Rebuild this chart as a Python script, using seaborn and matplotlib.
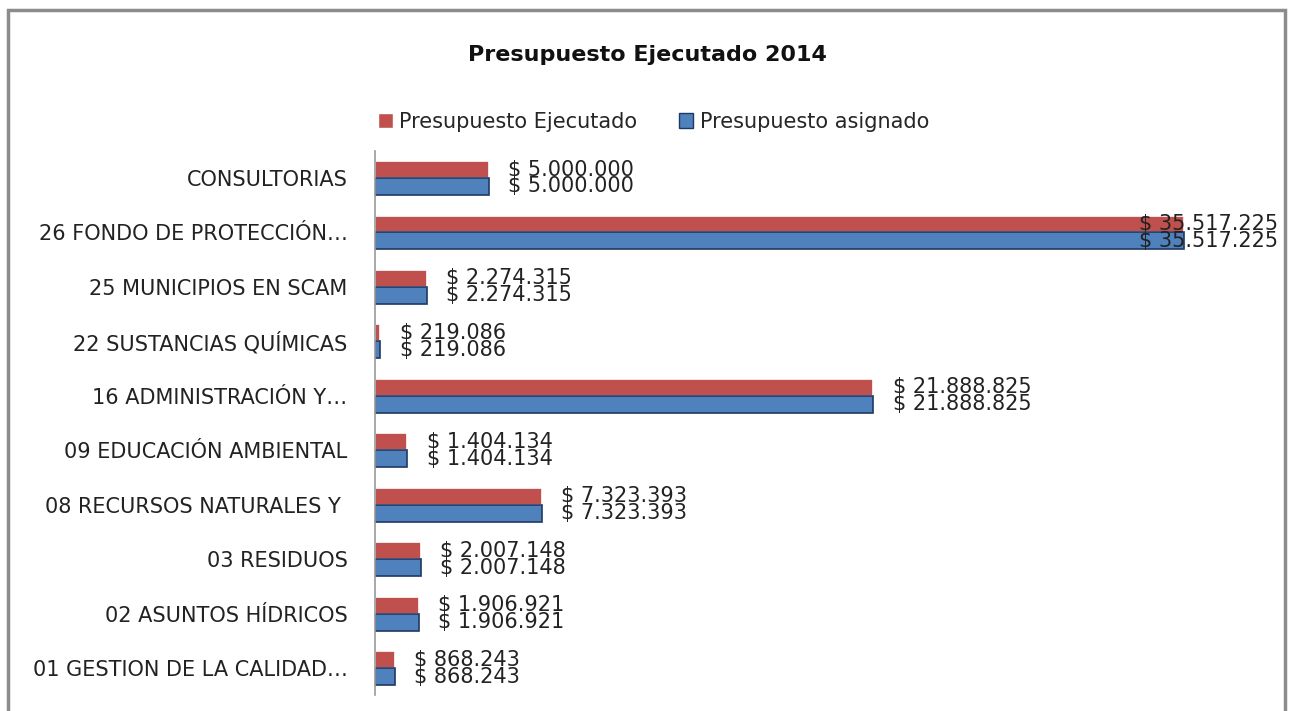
import pandas as pd
import matplotlib.pyplot as plt
import seaborn as sns
from matplotlib.patches import Rectangle

categorias = ['CONSULTORIAS', '26 FONDO DE PROTECCIÓN…', '25 MUNICIPIOS EN SCAM',
              '22 SUSTANCIAS QUÍMICAS', '16 ADMINISTRACIÓN Y…', '09 EDUCACIÓN AMBIENTAL',
              '08 RECURSOS NATURALES Y ', '03 RESIDUOS', '02 ASUNTOS HÍDRICOS',
              '01 GESTION DE LA CALIDAD…']
ejecutado = [5000000, 35517225, 2274315, 219086, 21888825, 1404134, 7323393, 2007148, 1906921, 868243]
asignado = [5000000, 35517225, 2274315, 219086, 21888825, 1404134, 7323393, 2007148, 1906921, 868243]
series = ['Presupuesto Ejecutado', 'Presupuesto asignado']

df = pd.DataFrame({
    'Categoria': categorias * 2,
    'Valor': ejecutado + asignado,
    'Serie': [series[0]] * len(categorias) + [series[1]] * len(categorias),
})

sns.set_style('white')
plt.rcParams['font.family'] = ['DejaVu Sans']

fig = plt.figure(figsize=(12.94, 7.11), dpi=100)
ax = fig.add_axes([0.29, 0.022, 0.70, 0.766])

sns.barplot(data=df, y='Categoria', x='Valor', hue='Serie', order=categorias,
            hue_order=series, palette=['#C0504D', '#4F81BD'], width=0.62,
            saturation=1, orient='h', ax=ax, legend=False)

xmax = 39.8e6
ax.set_xlim(0, xmax)
ax.set_ylim(len(categorias) - 0.5, -0.5)

# bordes de las barras
for cont, edge in zip(ax.containers, ['white', '#1F3864']):
    for bar in cont:
        bar.set_edgecolor(edge)
        bar.set_linewidth(1.2)

def fmt(v):
    return '$ ' + f'{v:,}'.replace(',', '.')

for cont, vals in zip(ax.containers, [ejecutado, asignado]):
    for bar, v in zip(cont, vals):
        yc = bar.get_y() + bar.get_height() / 2
        if v > 0.85 * xmax:
            ax.text(xmax * 0.997, yc, fmt(v), ha='right', va='center', fontsize=15, color='#222222')
        else:
            ax.annotate(fmt(v), (v, yc), xytext=(14, 0), textcoords='offset points',
                        ha='left', va='center', fontsize=15, color='#222222')

ax.set_xlabel('')
ax.set_ylabel('')
ax.set_xticks([])
ax.tick_params(axis='y', length=0, pad=20, labelsize=15, labelcolor='#222222')
for s in ['top', 'right', 'bottom']:
    ax.spines[s].set_visible(False)
ax.spines['left'].set_color('#9a9a9a')
ax.spines['left'].set_linewidth(1.2)

fig.text(0.5, 0.922, 'Presupuesto Ejecutado 2014', ha='center', va='center',
         fontsize=16, fontweight='bold', color='#111111')

handles = [Rectangle((0, 0), 1, 1, facecolor='#C0504D', edgecolor='white'),
           Rectangle((0, 0), 1, 1, facecolor='#4F81BD', edgecolor='#1F3864')]
fig.legend(handles, series, loc='center', bbox_to_anchor=(0.505, 0.829), ncol=2,
           frameon=False, fontsize=15, handlelength=0.7, handleheight=0.7,
           handletextpad=0.3, columnspacing=2.0)

# marco gris del gráfico
fig.patches.append(Rectangle((8 / 1294, -0.05), 1277 / 1294, 1.05 - 10 / 711,
                             transform=fig.transFigure, fill=False,
                             edgecolor='#8c8c8c', linewidth=2.5))

plt.savefig('out.png', dpi=100)
